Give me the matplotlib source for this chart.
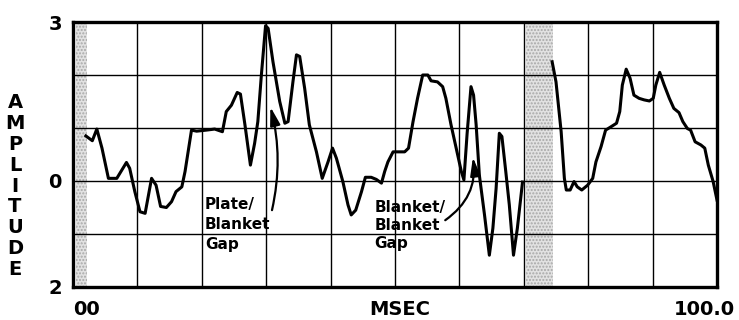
import matplotlib
matplotlib.use('Agg')
import matplotlib.pyplot as plt

# trace before the blanket gap
msec_a = [2.0, 3.0, 3.7, 4.5, 5.5, 6.8, 8.3, 8.8, 9.6, 10.4, 11.2, 12.2, 12.9,
          13.6, 14.5, 15.3, 16.0, 16.9, 17.4, 18.4, 19.2, 20.7, 22.0, 23.2,
          23.8, 24.6, 25.5, 26.0, 26.7, 27.55, 28.2, 28.7, 29.25, 29.9, 30.3,
          31.05, 32.1, 32.9, 33.4, 34.15, 34.7, 35.2, 35.97, 36.7, 37.8, 38.7,
          39.6, 40.3, 40.9, 41.9, 42.7, 43.2, 43.9, 44.8, 45.4, 46.3, 47.1,
          47.9, 48.4, 48.9, 49.7, 50.4, 51.5, 52.1, 52.8, 53.5, 54.3, 55.1,
          55.6, 56.6, 57.4, 57.9, 58.7, 59.5, 60.3, 60.7, 61.2, 61.8, 62.2,
          62.6, 63.1, 63.9, 64.65, 65.2, 65.7, 66.2, 66.6, 67.2, 67.75, 68.4,
          69.0, 69.8]
amp_a = [0.85, 0.76, 0.98, 0.62, 0.05, 0.05, 0.35, 0.24, -0.20, -0.58, -0.61,
         0.05, -0.08, -0.48, -0.50, -0.39, -0.20, -0.11, 0.18, 0.96, 0.94,
         0.96, 0.98, 0.93, 1.31, 1.43, 1.67, 1.64, 1.06, 0.30, 0.71, 1.12,
         2.00, 2.93, 2.88, 2.25, 1.50, 1.09, 1.12, 1.87, 2.38, 2.35, 1.75,
         1.06, 0.55, 0.05, 0.36, 0.62, 0.43, -0.01, -0.45, -0.64, -0.55,
         -0.20, 0.07, 0.07, 0.03, -0.04, 0.18, 0.36, 0.55, 0.55, 0.55, 0.62,
         1.12, 1.56, 2.00, 2.00, 1.89, 1.87, 1.78, 1.56, 1.06, 0.62, 0.18,
         0.02, 0.90, 1.78, 1.62, 1.06, 0.11, -0.64, -1.40, -0.89, -0.14, 0.90,
         0.84, 0.18, -0.45, -1.40, -0.89, -0.02]

# trace after the gap
msec_b = [74.4, 75.0, 75.8, 76.3, 76.6, 77.2, 77.8, 78.3, 79.0, 79.9, 80.7,
          81.2, 82.0, 82.7, 83.5, 84.4, 84.9, 85.3, 85.9, 86.5, 87.1, 87.9,
          88.7, 89.5, 90.1, 90.5, 91.1, 91.8, 92.6, 93.3, 94.1, 94.7, 95.4,
          95.9, 96.6, 97.5, 98.1, 98.65, 99.4, 100.0]
amp_b = [2.25, 1.87, 0.93, 0.05, -0.17, -0.17, -0.01, -0.11, -0.17, -0.08,
         0.05, 0.36, 0.65, 0.96, 1.02, 1.09, 1.31, 1.81, 2.11, 1.94, 1.62,
         1.56, 1.53, 1.51, 1.56, 1.81, 2.05, 1.81, 1.56, 1.37, 1.29, 1.12,
         0.99, 0.96, 0.74, 0.68, 0.62, 0.30, -0.01, -0.36]

# shaded gap bands (msec)
band_start = [0.5, 70.4]
band_end = [2.2, 74.5]

# leader arrows: (tail, tip)
plate_tail, plate_tip = (30.9, -0.55), (30.65, 1.40)
blanket_tail, blanket_tip = (57.8, -0.74), (62.1, 0.45)

FONT = 'DejaVu Sans'

fig = plt.figure(figsize=(7.39, 3.2), dpi=100)
ax = fig.add_axes([73 / 739, 1 - 287 / 320, 644 / 739, 265 / 320])

for s, e in zip(band_start, band_end):
    ax.axvspan(s, e, facecolor='#e2e2e2', edgecolor='#a8a8a8', hatch='.....',
               linewidth=0, zorder=0.5)

ax.plot(msec_a, amp_a, color='black', linewidth=2.2, zorder=3)
ax.plot(msec_b, amp_b, color='black', linewidth=2.2, zorder=3)

ax.set_xlim(0, 100)
ax.set_ylim(-2, 3)
ax.set_xticks(range(0, 101, 10))
ax.set_xticklabels([])
ax.set_yticks(range(-2, 4))
ax.set_yticklabels(['2', '', '0', '', '', '3'], fontsize=14,
                   fontweight='bold', family=FONT)
ax.tick_params(length=0, pad=8)
ax.grid(True, color='black', linewidth=1.0, zorder=1)
ax.set_axisbelow(True)
for sp in ax.spines.values():
    sp.set_linewidth(2.4)

ax.text(50.8, -2.42, 'MSEC', ha='center', va='center', fontsize=14,
        fontweight='bold', family=FONT, clip_on=False)
ax.text(0, -2.42, '00', ha='left', va='center', fontsize=14,
        fontweight='bold', family=FONT, clip_on=False)
ax.text(102.8, -2.42, '100.0', ha='right', va='center', fontsize=14,
        fontweight='bold', family=FONT, clip_on=False)

fig.text(15 / 739, 1 - 186 / 320, '\n'.join('AMPLITUDE'), ha='center',
         va='center', fontsize=14, fontweight='bold', family=FONT,
         linespacing=1.12)

# annotations
for i, line in enumerate(['Plate/', 'Blanket', 'Gap']):
    ax.text(20.5, -0.45 - 0.37 * i, line, ha='left', va='center', fontsize=11,
            fontweight='bold', family=FONT, zorder=4)
for i, line in enumerate(['Blanket/', 'Blanket', 'Gap']):
    ax.text(46.8, -0.50 - 0.34 * i, line, ha='left', va='center', fontsize=11,
            fontweight='bold', family=FONT, zorder=4)

arrow = dict(arrowstyle='-|>,head_length=1.1,head_width=0.3', color='black',
             linewidth=1.6, shrinkA=0, shrinkB=0)
ax.annotate('', xy=plate_tip, xytext=plate_tail,
            arrowprops=dict(arrow, connectionstyle='arc3,rad=0.12'), zorder=4)
ax.annotate('', xy=blanket_tip, xytext=blanket_tail,
            arrowprops=dict(arrow, connectionstyle='arc3,rad=0.3'), zorder=4)

fig.savefig('out.png', dpi=100)
